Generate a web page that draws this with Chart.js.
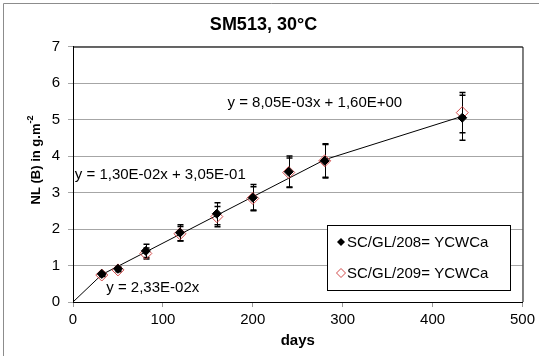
<!DOCTYPE html>
<html>
<head>
<meta charset="utf-8">
<script src="https://cdn.jsdelivr.net/npm/chart.js@4.4.0/dist/chart.umd.min.js"></script>
<style>
  html, body { margin: 0; padding: 0; background: #fff; }
  #wrap { width: 539px; height: 356px; }
</style>
</head>
<body>
<div id="wrap"><canvas id="myChart" width="539" height="356"></canvas></div>
<script>
// data
const days = [32, 50, 81, 119, 160, 200, 240, 280, 433];
const nl208 = [0.77, 0.91, 1.40, 1.90, 2.42, 2.86, 3.57, 3.87, 5.05];
const err208 = [0.04, 0.05, 0.18, 0.22, 0.30, 0.36, 0.43, 0.47, 0.62];
const nl209 = [0.74, 0.88, 1.33, 1.87, 2.34, 2.84, 3.55, 3.87, 5.19];
const err209 = [0.04, 0.05, 0.15, 0.20, 0.28, 0.32, 0.40, 0.45, 0.55];
const trendDays = [0, 32, 280, 433];
const trendNl = [0, 0.75, 3.90, 5.09];
const xTicks = [0, 100, 200, 300, 400, 500];
const yTicks = [0, 1, 2, 3, 4, 5, 6, 7];
const eqTexts = ["y = 8,05E-03x + 1,60E+00", "y = 1,30E-02x + 3,05E-01", "y = 2,33E-02x"];
const eqDays = [269, 2, 37];
const eqNl = [5.46, 3.49, 0.38];
const eqAlign = ["center", "left", "left"];
const seriesNames = ["SC/GL/208= YCWCa", "SC/GL/209= YCWCa"];

const FONT = "'Liberation Sans', Arial, sans-serif";
const ctx = document.getElementById("myChart");

const toPts = (xs, ys) => xs.map((x, i) => ({ x: x, y: ys[i] }));

const extras = {
  id: "extras",
  beforeDatasetsDraw(chart) {
    const c = chart.ctx, xs = chart.scales.x, ys = chart.scales.y;
    c.save();
    c.strokeStyle = "#000";
    [[nl208, err208], [nl209, err209]].forEach(([vals, errs]) => {
      days.forEach((d, i) => {
        const px = Math.round(xs.getPixelForValue(d)) + 0.5;
        const top = ys.getPixelForValue(vals[i] + errs[i]);
        const bot = ys.getPixelForValue(vals[i] - errs[i]);
        c.lineWidth = 1;
        c.beginPath();
        c.moveTo(px, top); c.lineTo(px, bot);
        c.stroke();
        c.lineWidth = 1.5;
        c.beginPath();
        c.moveTo(px - 3, top); c.lineTo(px + 3, top);
        c.moveTo(px - 3, bot); c.lineTo(px + 3, bot);
        c.stroke();
      });
    });
    c.restore();
  },
  afterDatasetsDraw(chart) {
    const c = chart.ctx, xs = chart.scales.x, ys = chart.scales.y;
    const a = chart.chartArea;
    c.save();
    // plot border top/right
    c.strokeStyle = "#000";
    c.lineWidth = 1;
    c.beginPath();
    c.moveTo(a.left, a.top + 0.5); c.lineTo(a.right + 0.5, a.top + 0.5);
    c.lineTo(a.right + 0.5, a.bottom);
    c.stroke();
    // equations
    c.fillStyle = "#000";
    c.font = "15px " + FONT;
    c.textBaseline = "middle";
    eqTexts.forEach((t, i) => {
      c.textAlign = eqAlign[i];
      c.fillText(t, xs.getPixelForValue(eqDays[i]), ys.getPixelForValue(eqNl[i]));
    });
    // legend
    const lx = 327, ly = 225, lw = 183, lh = 65;
    c.fillStyle = "#fff";
    c.fillRect(lx, ly, lw, lh);
    c.strokeStyle = "#000";
    c.strokeRect(lx + 0.5, ly + 0.5, lw, lh);
    c.textAlign = "left";
    c.fillStyle = "#000";
    c.font = "15px " + FONT;
    chart.data.datasets.slice(1).forEach((ds, i) => {
      const cy = ly + 17 + i * 31;
      c.beginPath();
      const r = i === 0 ? 4 : 4.5;
      c.moveTo(341, cy - r); c.lineTo(341 + r, cy); c.lineTo(341, cy + r); c.lineTo(341 - r, cy); c.closePath();
      if (i === 0) { c.fillStyle = "#000"; c.fill(); }
      else { c.strokeStyle = ds.borderColor; c.stroke(); }
      c.fillStyle = "#000";
      c.fillText(ds.label, 347, cy + 1);
    });
    // y title with superscript
    c.save();
    c.translate(36, 160);
    c.rotate(-Math.PI / 2);
    const main = "NL (B) in g.m";
    c.font = "bold 9px " + FONT;
    const supW = c.measureText("-2").width;
    c.font = "bold 13px " + FONT;
    const mw = c.measureText(main).width;
    const x0 = -(mw + supW) / 2;
    c.textAlign = "left";
    c.fillText(main, x0, 0);
    c.font = "bold 9px " + FONT;
    c.fillText("-2", x0 + mw, -5);
    c.restore();
    // outer frame
    c.strokeStyle = "#8c8c8c";
    c.beginPath();
    c.moveTo(3.5, 356); c.lineTo(3.5, 3.5); c.lineTo(539, 3.5);
    c.stroke();
    c.restore();
  }
};

const chart = new Chart(ctx, {
  type: "scatter",
  data: {
    datasets: [
      {
        label: "trend",
        type: "line",
        data: toPts(trendDays, trendNl),
        borderColor: "#000",
        borderWidth: 1,
        pointRadius: 0,
        fill: false,
        tension: 0,
        order: 3
      },
      {
        label: seriesNames[0],
        data: toPts(days, nl208),
        pointStyle: "rectRot",
        pointRadius: 4.5,
        backgroundColor: "#000",
        borderColor: "#000",
        borderWidth: 1,
        order: 1
      },
      {
        label: seriesNames[1],
        data: toPts(days, nl209),
        pointStyle: "rectRot",
        pointRadius: 6,
        backgroundColor: "rgba(0,0,0,0)",
        borderColor: "#d24b4b",
        borderWidth: 1,
        order: 2
      }
    ]
  },
  options: {
    responsive: false,
    animation: false,
    events: [],
    layout: { padding: { left: 0, right: 12, top: 0, bottom: 0 } },
    plugins: {
      legend: { display: false },
      tooltip: { enabled: false },
      title: {
        display: true,
        text: "SM513, 30°C",
        color: "#000",
        font: { family: FONT, size: 18, weight: "bold" },
        padding: { top: 14, bottom: 11 }
      }
    },
    scales: {
      x: {
        type: "linear",
        min: 0,
        max: 500,
        afterBuildTicks: (s) => { s.ticks = xTicks.map((v) => ({ value: v })); },
        afterFit: (s) => { s.height = 54; },
        ticks: { color: "#000", font: { family: FONT, size: 15 }, padding: 4, maxRotation: 0 },
        grid: { drawOnChartArea: false, color: "#999", tickLength: 5 },
        border: { color: "#000" },
        title: {
          display: true,
          text: "days",
          color: "#000",
          font: { family: FONT, size: 15, weight: "bold" },
          padding: { top: 0, bottom: 6 }
        }
      },
      y: {
        type: "linear",
        min: 0,
        max: 7,
        afterBuildTicks: (s) => { s.ticks = yTicks.map((v) => ({ value: v })); },
        afterFit: (s) => { s.width = 73; },
        ticks: { color: "#000", font: { family: FONT, size: 15 }, padding: 8 },
        grid: { color: "#a6a6a6", tickLength: 5 },
        border: { color: "#000" }
      }
    }
  },
  plugins: [extras]
});
</script>
</body>
</html>
